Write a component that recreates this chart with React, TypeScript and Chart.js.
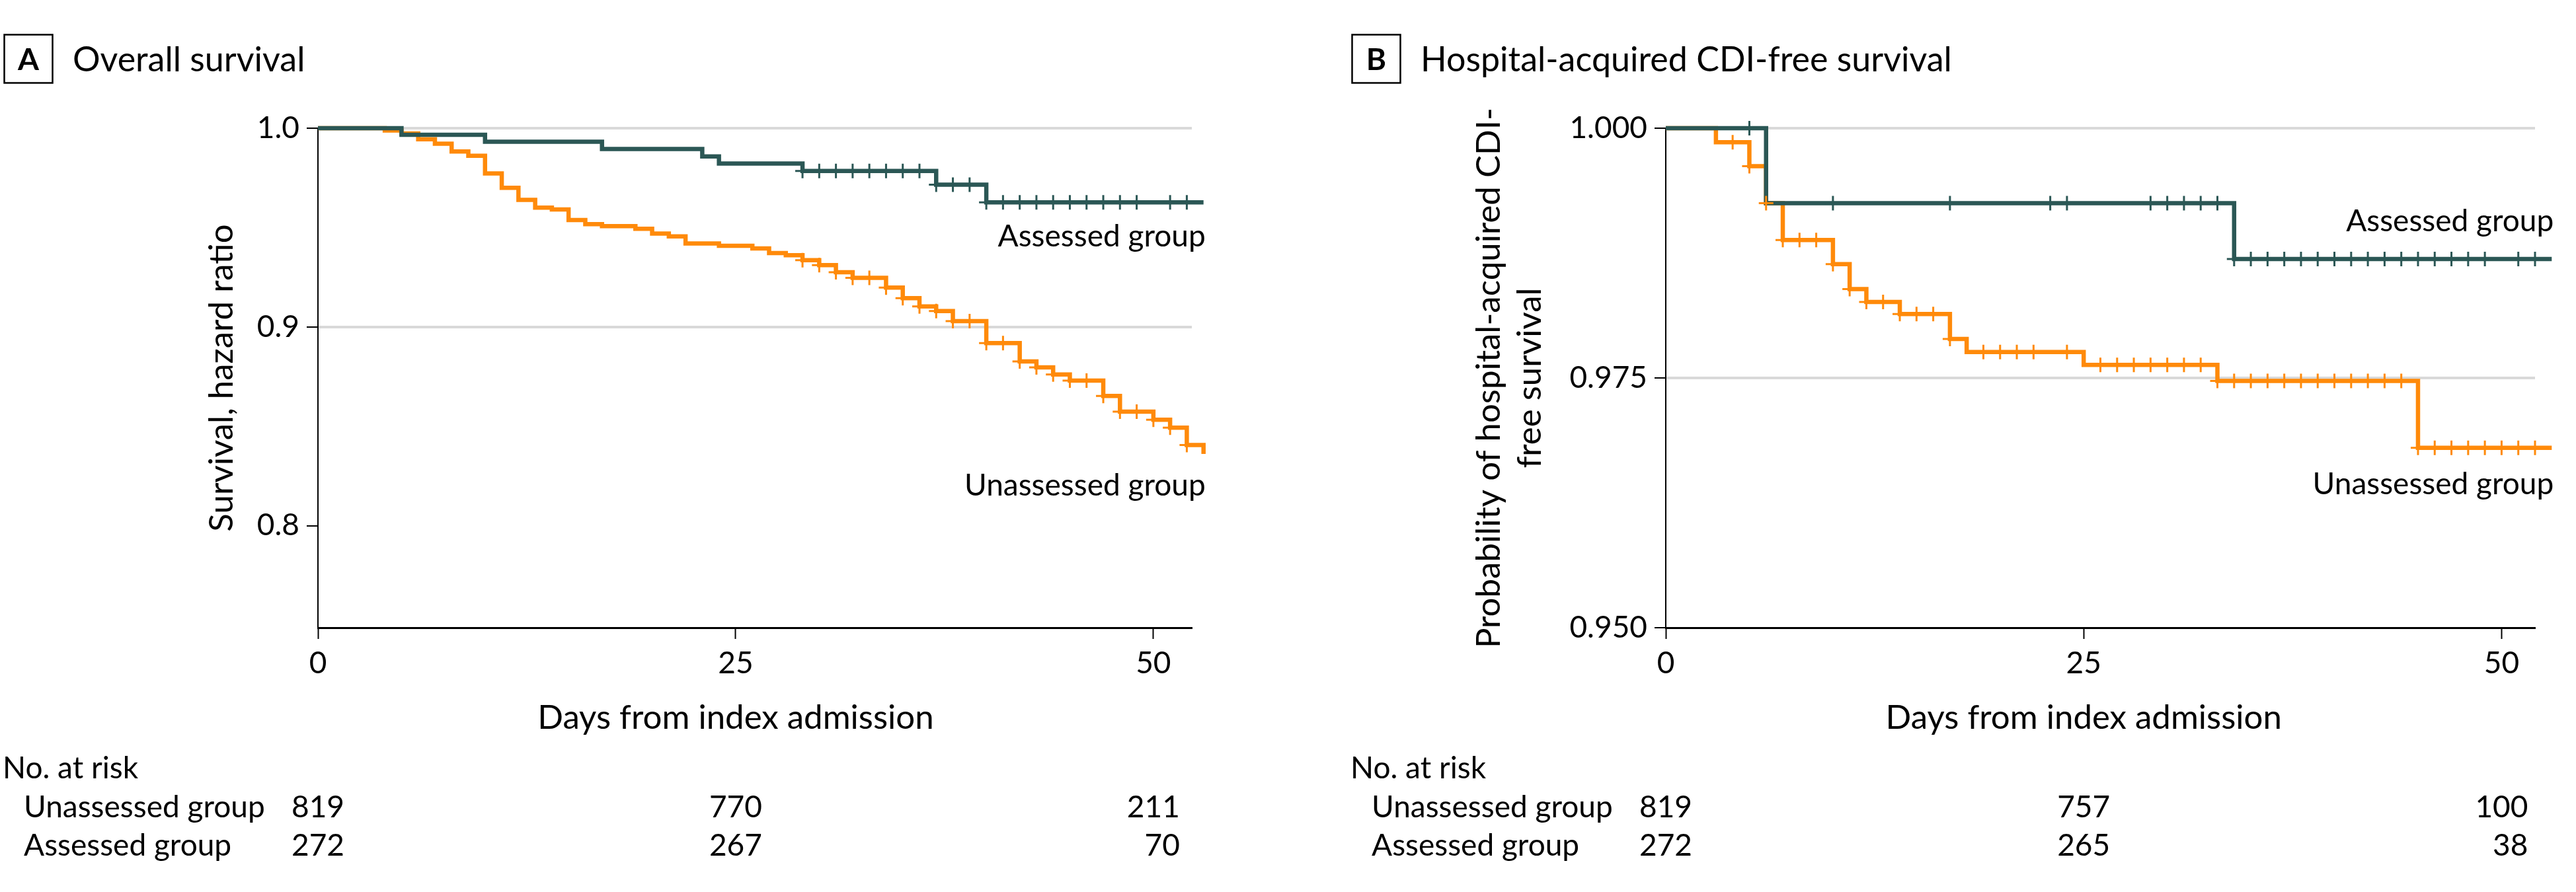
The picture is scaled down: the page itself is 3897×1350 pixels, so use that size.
import React, { useEffect, useRef } from 'react';
import { Chart, registerables } from 'chart.js';

Chart.register(...registerables);

const FONT = 'Lato, "Noto Sans", sans-serif';
const TEAL = '#2B5755';
const ORANGE = '#FF8A0A';
const GRID = '#D9D9D9';

// ---------- shared ----------
const xTickValues = [0, 25, 50];
const riskDays = [0, 25, 50];
const xTitle = 'Days from index admission';

// ---------- Panel A: Overall survival ----------
const osUnassessedDays = [0, 4, 5, 6, 7, 8, 9, 10, 11, 12, 13, 14, 15, 16, 17, 19, 20, 21, 22, 24, 26, 27, 28, 29, 30, 31, 32, 34, 35, 36, 37, 38, 40, 42, 43, 44, 45, 47, 48, 50, 51, 52, 53];
const osUnassessedSurv = [1.0, 0.9988, 0.9973, 0.9944, 0.9922, 0.9883, 0.9861, 0.9772, 0.97, 0.9639, 0.96, 0.9591, 0.9538, 0.9517, 0.9507, 0.9494, 0.947, 0.9456, 0.942, 0.9408, 0.9395, 0.9372, 0.9361, 0.9336, 0.9311, 0.9275, 0.9247, 0.9198, 0.9145, 0.9103, 0.908, 0.9029, 0.8919, 0.8827, 0.8797, 0.8761, 0.873, 0.8653, 0.8574, 0.8533, 0.8493, 0.8406, 0.8361];
const osUnassessedCensored = [29, 30, 31, 32, 33, 34, 35, 36, 37, 38, 39, 40, 41, 42, 43, 44, 45, 46, 47, 48, 49, 50, 51, 52];
const osAssessedDays = [0, 5, 10, 17, 23, 24, 29, 37, 40, 53];
const osAssessedSurv = [1.0, 0.9967, 0.9932, 0.9895, 0.9858, 0.9822, 0.9785, 0.9716, 0.9627, 0.9627];
const osAssessedCensored = [29, 30, 31, 32, 33, 34, 35, 36, 37, 38, 39, 40, 41, 42, 43, 44, 45, 46, 47, 48, 49, 51, 52];
const osYTicks = [0.8, 0.9, 1.0];
const osGridValues = [0.9, 1.0];
const osRiskUnassessed = [819, 770, 211];
const osRiskAssessed = [272, 267, 70];

// ---------- Panel B: Hospital-acquired CDI-free survival ----------
const cdiUnassessedDays = [0, 3, 5, 6, 7, 10, 11, 12, 14, 17, 18, 25, 33, 45, 53];
const cdiUnassessedSurv = [1.0, 0.9986, 0.9962, 0.9925, 0.9888, 0.9864, 0.9839, 0.9826, 0.9814, 0.9789, 0.9776, 0.9763, 0.9747, 0.968, 0.968];
const cdiUnassessedCensored = [4, 5, 6, 7, 8, 9, 10, 11, 12, 13, 14, 15, 16, 17, 19, 20, 21, 22, 24, 26, 27, 28, 29, 30, 31, 32, 33, 34, 35, 36, 37, 38, 39, 40, 41, 42, 43, 44, 45, 46, 47, 48, 49, 50, 51, 52];
const cdiAssessedDays = [0, 6, 34, 53];
const cdiAssessedSurv = [1.0, 0.9925, 0.9869, 0.9869];
const cdiAssessedCensored = [5, 10, 17, 23, 24, 29, 30, 31, 32, 33, 34, 35, 36, 37, 38, 39, 40, 41, 42, 43, 44, 45, 46, 47, 48, 49, 51, 52];
const cdiYTicks = [0.95, 0.975, 1.0];
const cdiGridValues = [0.975, 1.0];
const cdiRiskUnassessed = [819, 757, 100];
const cdiRiskAssessed = [272, 265, 38];

type PanelSpec = {
  left: number;
  width: number;
  originX: number;
  axisLeft: number;
  padRight: number;
  xMax: number;
  yMin: number;
  decimals: number;
  yTicks: number[];
  gridValues: number[];
  letter: string;
  title: string;
  yTitle: string[];
  yTitleX: number[];
  uDays: number[];
  uSurv: number[];
  uCens: number[];
  aDays: number[];
  aSurv: number[];
  aCens: number[];
  riskU: number[];
  riskA: number[];
  assessedLabelY: number;
  unassessedLabelY: number;
  curveEnd: number;
};

const panels: PanelSpec[] = [
  {
    left: 0, width: 1950, originX: 0, axisLeft: 481, padRight: 147, xMax: 52.3, yMin: 0.7487, decimals: 1,
    yTicks: osYTicks, gridValues: osGridValues, letter: 'A', title: 'Overall survival',
    yTitle: ['Survival, hazard ratio'], yTitleX: [352],
    uDays: osUnassessedDays, uSurv: osUnassessedSurv, uCens: osUnassessedCensored,
    aDays: osAssessedDays, aSurv: osAssessedSurv, aCens: osAssessedCensored,
    riskU: osRiskUnassessed, riskA: osRiskAssessed, assessedLabelY: 373, unassessedLabelY: 750, curveEnd: 53,
  },
  {
    left: 1950, width: 1947, originX: 89, axisLeft: 570, padRight: 62, xMax: 52, yMin: 0.95, decimals: 3,
    yTicks: cdiYTicks, gridValues: cdiGridValues, letter: 'B', title: 'Hospital-acquired CDI-free survival',
    yTitle: ['Probability of hospital-acquired CDI-', 'free survival'], yTitleX: [319, 381],
    uDays: cdiUnassessedDays, uSurv: cdiUnassessedSurv, uCens: cdiUnassessedCensored,
    aDays: cdiAssessedDays, aSurv: cdiAssessedSurv, aCens: cdiAssessedCensored,
    riskU: cdiRiskUnassessed, riskA: cdiRiskAssessed, assessedLabelY: 350, unassessedLabelY: 748, curveEnd: 53,
  },
];

const kmAt = (days: number[], surv: number[], t: number) => {
  let v = surv[0];
  for (let i = 0; i < days.length; i++) if (days[i] <= t) v = surv[i];
  return v;
};
const curvePoints = (days: number[], surv: number[]) => days.map((d, i) => ({ x: d, y: surv[i] }));
const censorPoints = (days: number[], surv: number[], cens: number[]) =>
  cens.map((t) => ({ x: t, y: kmAt(days, surv, t) }));

const textPlugin = (p: PanelSpec) => ({
  id: 'kmText',
  afterDraw(chart: any) {
    const { ctx, chartArea } = chart;
    const xs = chart.scales.x;
    const ox = p.originX;
    ctx.save();
    ctx.fillStyle = '#000';
    ctx.strokeStyle = '#000';
    // panel letter box
    ctx.lineWidth = 2.5;
    ctx.strokeRect(ox + 6.5, 52.5, 73, 73);
    ctx.font = `700 46px ${FONT}`;
    ctx.textAlign = 'center';
    ctx.textBaseline = 'alphabetic';
    ctx.fillText(p.letter, ox + 43, 106);
    // title
    ctx.textAlign = 'left';
    ctx.font = `52px ${FONT}`;
    ctx.fillText(p.title, ox + 110, 108);
    // axis titles
    ctx.font = `51px ${FONT}`;
    const yMid = (chartArea.top + chartArea.bottom) / 2;
    p.yTitle.forEach((line, i) => {
      ctx.save();
      ctx.translate(p.yTitleX[i], yMid);
      ctx.rotate(-Math.PI / 2);
      ctx.textAlign = 'center';
      ctx.fillText(line, 0, 0);
      ctx.restore();
    });
    ctx.textAlign = 'center';
    ctx.fillText(xTitle, xs.getPixelForValue(25), 1103);
    // group labels
    ctx.font = `46px ${FONT}`;
    ctx.textAlign = 'right';
    const xEnd = xs.getPixelForValue(p.curveEnd) + 3;
    ctx.fillText('Assessed group', xEnd, p.assessedLabelY);
    ctx.fillText('Unassessed group', xEnd, p.unassessedLabelY);
    // risk table
    ctx.textAlign = 'left';
    ctx.fillText('No. at risk', ox + 4, 1178);
    ctx.fillText('Unassessed group', ox + 36, 1237);
    ctx.fillText('Assessed group', ox + 36, 1295);
    ctx.textAlign = 'right';
    const half = ctx.measureText('000').width / 2;
    riskDays.forEach((d, i) => {
      const x = xs.getPixelForValue(d) + half;
      ctx.fillText(String(p.riskU[i]), x, 1237);
      ctx.fillText(String(p.riskA[i]), x, 1295);
    });
    ctx.restore();
  },
});

const buildConfig = (p: PanelSpec): any => ({
  type: 'line',
  data: {
    datasets: [
      {
        label: 'Assessed group censored',
        data: censorPoints(p.aDays, p.aSurv, p.aCens),
        showLine: false,
        pointStyle: 'cross',
        pointRadius: 11,
        pointHoverRadius: 11,
        pointBorderWidth: 3,
        borderColor: TEAL,
        backgroundColor: TEAL,
        clip: false,
        order: 0,
      },
      {
        label: 'Unassessed group censored',
        data: censorPoints(p.uDays, p.uSurv, p.uCens),
        showLine: false,
        pointStyle: 'cross',
        pointRadius: 11,
        pointHoverRadius: 11,
        pointBorderWidth: 3,
        borderColor: ORANGE,
        backgroundColor: ORANGE,
        clip: false,
        order: 1,
      },
      {
        label: 'Assessed group',
        data: curvePoints(p.aDays, p.aSurv),
        stepped: 'before',
        borderColor: TEAL,
        borderWidth: 6.5,
        pointRadius: 0,
        pointHoverRadius: 0,
        fill: false,
        borderJoinStyle: 'miter',
        borderCapStyle: 'butt',
        clip: false,
        order: 2,
      },
      {
        label: 'Unassessed group',
        data: curvePoints(p.uDays, p.uSurv),
        stepped: 'before',
        borderColor: ORANGE,
        borderWidth: 6.5,
        pointRadius: 0,
        pointHoverRadius: 0,
        fill: false,
        borderJoinStyle: 'miter',
        borderCapStyle: 'butt',
        clip: false,
        order: 3,
      },
    ],
  },
  options: {
    responsive: false,
    animation: false,
    devicePixelRatio: 1,
    events: [],
    layout: { padding: { left: 0, top: 194, right: p.padRight, bottom: 0 } },
    plugins: { legend: { display: false }, tooltip: { enabled: false } },
    scales: {
      x: {
        type: 'linear',
        min: 0,
        max: p.xMax,
        afterFit: (s: any) => { s.height = 400; },
        afterBuildTicks: (s: any) => { s.ticks = xTickValues.map((v) => ({ value: v })); },
        grid: { drawOnChartArea: false, drawTicks: true, tickLength: 17, tickWidth: 2, tickColor: '#000' },
        border: { display: true, color: '#000', width: 3 },
        ticks: {
          padding: 10, color: '#000', maxRotation: 0, autoSkip: false,
          font: { size: 46, family: FONT, lineHeight: 1.2 },
          callback: (v: any) => String(v),
        },
      },
      y: {
        type: 'linear',
        min: p.yMin,
        max: 1.0,
        afterFit: (s: any) => { s.width = p.axisLeft; },
        afterBuildTicks: (s: any) => { s.ticks = p.yTicks.map((v) => ({ value: v })); },
        grid: {
          color: (c: any) => (c.tick && p.gridValues.some((g) => Math.abs(g - c.tick.value) < 1e-6) ? GRID : 'rgba(0,0,0,0)'),
          lineWidth: 4,
          drawTicks: true,
          tickLength: 17,
          tickWidth: 2,
          tickColor: '#000',
        },
        border: { display: true, color: '#000', width: 2 },
        ticks: {
          padding: 11, color: '#000', autoSkip: false,
          font: { size: 46, family: FONT, lineHeight: 1.2 },
          callback: (v: any) => Number(v).toFixed(p.decimals),
        },
      },
    },
  },
  plugins: [textPlugin(p)],
});

function KMPanel({ p }: { p: PanelSpec }) {
  const ref = useRef<HTMLCanvasElement>(null);
  useEffect(() => {
    let chart: Chart | null = null;
    let cancelled = false;
    const make = () => {
      if (cancelled || !ref.current) return;
      chart = new Chart(ref.current, buildConfig(p));
    };
    const fonts: any = (document as any).fonts;
    if (fonts && fonts.load) {
      Promise.all([fonts.load(`46px Lato`), fonts.load(`700 46px Lato`)]).then(make, make);
    } else {
      make();
    }
    return () => {
      cancelled = true;
      if (chart) chart.destroy();
    };
  }, [p]);
  return (
    <div style={{ position: 'absolute', left: p.left, top: 0, width: p.width, height: 1350 }}>
      <canvas ref={ref} width={p.width} height={1350} style={{ width: p.width, height: 1350, display: 'block' }} />
    </div>
  );
}

export default function App() {
  return (
    <div style={{ position: 'absolute', left: 0, top: 0, width: 3897, height: 1350, background: '#fff' }}>
      {panels.map((p) => (
        <KMPanel key={p.letter} p={p} />
      ))}
    </div>
  );
}
